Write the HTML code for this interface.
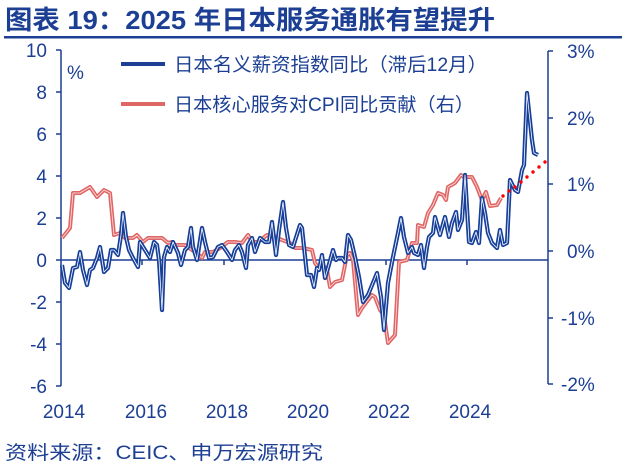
<!DOCTYPE html>
<html><head><meta charset="utf-8"><style>
body{margin:0;width:624px;height:467px;background:#fff;overflow:hidden}
svg{display:block}
text{font-family:"Liberation Sans","Noto Sans CJK SC",sans-serif;fill:#1c3f94}
</style></head><body>
<svg width="624" height="467" viewBox="0 0 624 467">
<text x="5" y="29" font-size="26" font-weight="bold" fill="#1c3f94" textLength="490" lengthAdjust="spacingAndGlyphs">图表 19：2025 年日本服务通胀有望提升</text>
<rect x="4" y="36" width="618" height="2.5" fill="#1c3f94"/>
<g stroke="#1c3f94" stroke-width="1.5" fill="none">
<path d="M61,50V386"/><path d="M548,51V384"/><path d="M61,260H548"/>
<path d="M56,50H61M56,92H61M56,134H61M56,176H61M56,218H61M56,260H61M56,302H61M56,344H61M56,386H61"/>
<path d="M548,51H553M548,118H553M548,184H553M548,251H553M548,318H553M548,384H553"/>
<path d="M142,260v5M224,260v5M305,260v5M386,260v5M467,260v5"/>
</g>
<g font-size="19" text-anchor="end">
<text x="47" y="57">10</text><text x="47" y="99">8</text><text x="47" y="141">6</text><text x="47" y="183">4</text><text x="47" y="225">2</text><text x="47" y="267">0</text><text x="47" y="309">-2</text><text x="47" y="351">-4</text><text x="47" y="393">-6</text>
</g>
<text x="67" y="79" font-size="19">%</text>
<g font-size="19">
<text x="567" y="58">3%</text><text x="567" y="125">2%</text><text x="567" y="191">1%</text><text x="567" y="258">0%</text><text x="561" y="325">-1%</text><text x="561" y="391">-2%</text>
</g>
<g font-size="19" text-anchor="middle">
<text x="64" y="418">2014</text><text x="146" y="418">2016</text><text x="227" y="418">2018</text><text x="308" y="418">2020</text><text x="389" y="418">2022</text><text x="470" y="418">2024</text>
</g>
<line x1="121" y1="64" x2="165" y2="64" stroke="#1c3f94" stroke-width="4"/>
<text x="174" y="71" font-size="19" textLength="313" lengthAdjust="spacingAndGlyphs">日本名义薪资指数同比（滞后12月）</text>
<line x1="121" y1="104" x2="165" y2="104" stroke="#e06666" stroke-width="4"/>
<text x="174" y="111" font-size="19" textLength="300" lengthAdjust="spacingAndGlyphs">日本核心服务对CPI同比贡献（右）</text>
<g fill="none" stroke-linejoin="round">
<path d="M62,238L70,228L73,193L80,193L85,190L90,187L97,197L104,190L110,193L114,235L120,233L125,238L133,238L137,235L143,242L148,238L162,238L168,243L172,242L175,245L185,245L192,250L197,253L202,258L205,252L213,252L220,248L228,242L235,242L242,243L248,235L252,242L258,242L267,235L275,237L282,240L290,243L295,248L303,248L312,250L315,263L318,267L323,265L327,270L330,287L335,282L342,280L347,255L350,253L353,260L358,315L362,308L372,295L375,297L380,310L384,315L388,343L395,335L399,262L407,260L412,243L417,243L418,225L424,227L428,213L433,205L438,193L443,195L446,200L448,187L455,183L461,175L464,177L472,177L477,187L482,200L486,192L490,206L497,205L501,198" stroke="#e06666" stroke-width="4"/>
<path d="M62,238L70,228L73,193L80,193L85,190L90,187L97,197L104,190L110,193L114,235L120,233L125,238L133,238L137,235L143,242L148,238L162,238L168,243L172,242L175,245L185,245L192,250L197,253L202,258L205,252L213,252L220,248L228,242L235,242L242,243L248,235L252,242L258,242L267,235L275,237L282,240L290,243L295,248L303,248L312,250L315,263L318,267L323,265L327,270L330,287L335,282L342,280L347,255L350,253L353,260L358,315L362,308L372,295L375,297L380,310L384,315L388,343L395,335L399,262L407,260L412,243L417,243L418,225L424,227L428,213L433,205L438,193L443,195L446,200L448,187L455,183L461,175L464,177L472,177L477,187L482,200L486,192L490,206L497,205L501,198" stroke="#fbe3e3" stroke-width="0.8"/>
<path d="M62,265L65,283L69,288L73,268L77,267L80,252L83,270L87,285L90,270L93,268L97,258L100,247L104,272L108,268L111,250L114,250L118,255L121,235L123,213L126,237L129,250L133,258L138,267L140,242L145,250L150,258L154,242L157,245L159,260L162,310L164,257L167,247L170,252L173,242L178,253L181,265L185,250L188,247L191,228L193,247L197,260L202,228L205,242L209,258L213,257L218,247L222,245L227,252L232,260L235,250L239,245L242,252L246,268L248,245L252,238L255,252L260,238L265,242L269,242L272,222L276,255L279,230L283,202L286,228L289,245L293,247L300,225L302,228L307,275L311,275L314,287L317,268L319,270L322,255L325,278L328,268L333,250L336,260L338,258L342,258L345,262L348,235L351,240L355,257L359,277L363,302L368,295L377,273L381,297L384,330L388,283L393,257L398,233L401,218L404,237L408,253L412,247L414,253L418,255L421,245L424,268L427,247L429,237L433,233L435,217L440,235L445,217L449,237L452,223L456,212L458,230L462,220L465,175L469,242L472,243L476,232L479,243L482,198L485,213L488,233L492,243L497,248L500,230L503,245L507,243L510,180L515,190L518,192L522,170L524,165L527,93L532,140L534,153L538,155" stroke="#163f9a" stroke-width="4.2"/>
<path d="M62,265L65,283L69,288L73,268L77,267L80,252L83,270L87,285L90,270L93,268L97,258L100,247L104,272L108,268L111,250L114,250L118,255L121,235L123,213L126,237L129,250L133,258L138,267L140,242L145,250L150,258L154,242L157,245L159,260L162,310L164,257L167,247L170,252L173,242L178,253L181,265L185,250L188,247L191,228L193,247L197,260L202,228L205,242L209,258L213,257L218,247L222,245L227,252L232,260L235,250L239,245L242,252L246,268L248,245L252,238L255,252L260,238L265,242L269,242L272,222L276,255L279,230L283,202L286,228L289,245L293,247L300,225L302,228L307,275L311,275L314,287L317,268L319,270L322,255L325,278L328,268L333,250L336,260L338,258L342,258L345,262L348,235L351,240L355,257L359,277L363,302L368,295L377,273L381,297L384,330L388,283L393,257L398,233L401,218L404,237L408,253L412,247L414,253L418,255L421,245L424,268L427,247L429,237L433,233L435,217L440,235L445,217L449,237L452,223L456,212L458,230L462,220L465,175L469,242L472,243L476,232L479,243L482,198L485,213L488,233L492,243L497,248L500,230L503,245L507,243L510,180L515,190L518,192L522,170L524,165L527,93L532,140L534,153L538,155" stroke="#ffffff" stroke-width="0.8"/>
</g>
<g fill="#ff0000">
<circle cx="503" cy="196" r="1.7"/><circle cx="509" cy="191" r="1.7"/><circle cx="515" cy="187" r="1.7"/><circle cx="521" cy="182" r="1.7"/><circle cx="527" cy="177" r="1.7"/><circle cx="533" cy="172" r="1.7"/><circle cx="539" cy="167" r="1.7"/><circle cx="545" cy="162" r="1.7"/>
</g>
<text x="5" y="459" font-size="19" fill="#1c3f94" textLength="318" lengthAdjust="spacingAndGlyphs">资料来源：CEIC、申万宏源研究</text>
</svg>
</body></html>
